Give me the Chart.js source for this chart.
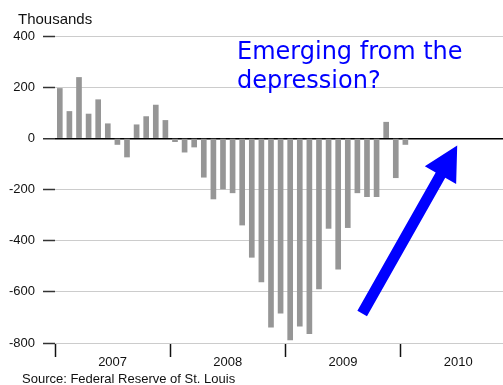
<!DOCTYPE html>
<html>
<head>
<meta charset="utf-8">
<script src="https://cdn.jsdelivr.net/npm/chart.js@4"></script>
<style>
  body { margin: 0; background: #fff; overflow: hidden; }
</style>
</head>
<body>
<canvas id="jobsChart" width="503" height="385"></canvas>
<script>
// Monthly change in payrolls (thousands), Jan 2007 .. Jan 2010
const months = [
  'Jan 2007','Feb 2007','Mar 2007','Apr 2007','May 2007','Jun 2007',
  'Jul 2007','Aug 2007','Sep 2007','Oct 2007','Nov 2007','Dec 2007',
  'Jan 2008','Feb 2008','Mar 2008','Apr 2008','May 2008','Jun 2008',
  'Jul 2008','Aug 2008','Sep 2008','Oct 2008','Nov 2008','Dec 2008',
  'Jan 2009','Feb 2009','Mar 2009','Apr 2009','May 2009','Jun 2009',
  'Jul 2009','Aug 2009','Sep 2009','Oct 2009','Nov 2009','Dec 2009',
  'Jan 2010'
];
const jobChanges = [
  195, 105, 238, 95, 151, 57, -24, -73, 53, 85, 130, 70,
  -13, -54, -34, -152, -237, -198, -213, -339, -465, -561, -738, -683,
  -788, -734, -764, -589, -352, -511, -349, -213, -228, -228, 63, -154,
  -24
];
const years = ['2007', '2008', '2009', '2010'];
const yTicks = [400, 200, 0, -200, -400, -600, -800];

// arrow annotation, in (month, thousands)
const arrowFrom = { month: 32.0, value: -685 };
const arrowTo = { month: 41.9, value: -28 };

const noteLines = ['Emerging from the', 'depression?'];

Chart.defaults.font.family = '"Liberation Sans", Arial, sans-serif';
Chart.defaults.font.size = 13;
Chart.defaults.color = '#111';

const extras = {
  id: 'extras',
  afterDatasetsDraw(chart) {
    const ctx = chart.ctx;
    const xs = chart.scales.x, ys = chart.scales.y;

    // blue arrow
    const x1 = xs.getPixelForValue(arrowFrom.month), y1 = ys.getPixelForValue(arrowFrom.value);
    const x2 = xs.getPixelForValue(arrowTo.month), y2 = ys.getPixelForValue(arrowTo.value);
    const ang = Math.atan2(y2 - y1, x2 - x1);
    const headLen = 34, headHalf = 18, shaft = 11;
    const bx = x2 - headLen * Math.cos(ang), by = y2 - headLen * Math.sin(ang);
    const px = -Math.sin(ang), py = Math.cos(ang);
    ctx.save();
    ctx.fillStyle = '#0000ff';
    ctx.beginPath();
    ctx.moveTo(x1 + px * shaft / 2, y1 + py * shaft / 2);
    ctx.lineTo(bx + px * shaft / 2, by + py * shaft / 2);
    ctx.lineTo(bx + px * headHalf, by + py * headHalf);
    ctx.lineTo(x2, y2);
    ctx.lineTo(bx - px * headHalf, by - py * headHalf);
    ctx.lineTo(bx - px * shaft / 2, by - py * shaft / 2);
    ctx.lineTo(x1 - px * shaft / 2, y1 - py * shaft / 2);
    ctx.closePath();
    ctx.fill();

    // note text
    ctx.font = '24px "DejaVu Sans", Verdana, sans-serif';
    ctx.textBaseline = 'alphabetic';
    ctx.textAlign = 'left';
    ctx.fillText(noteLines[0], 237, 59);
    ctx.fillText(noteLines[1], 237, 88);

    // unit + source
    ctx.fillStyle = '#111';
    ctx.font = '15px "Liberation Sans", Arial, sans-serif';
    ctx.fillText('Thousands', 18, 24);
    ctx.font = '13px "Liberation Sans", Arial, sans-serif';
    ctx.fillText('Source: Federal Reserve of St. Louis', 22, 383);
    ctx.restore();
  }
};

new Chart(document.getElementById('jobsChart'), {
  type: 'bar',
  data: {
    datasets: [{
      label: 'Payroll change',
      data: months.map((m, i) => ({ x: i + 0.5, y: jobChanges[i] })),
      backgroundColor: '#969696',
      barThickness: 5,
      borderWidth: 0
    }]
  },
  options: {
    responsive: false,
    animation: false,
    devicePixelRatio: 1,
    layout: { padding: { top: 36, left: 0, right: 0, bottom: 0 } },
    plugins: { legend: { display: false }, tooltip: { enabled: false } },
    scales: {
      x: {
        type: 'linear',
        offset: false,
        min: 0,
        max: 46.67,
        afterBuildTicks(scale) {
          const t = [];
          years.forEach((y, i) => { t.push({ value: i * 12 }); t.push({ value: i * 12 + 6 }); });
          scale.ticks = t;
        },
        afterFit(scale) { scale.height = 42; },
        border: { display: false },
        grid: {
          offset: false,
          drawOnChartArea: false,
          tickLength: 14,
          tickWidth: 1.5,
          tickColor: ctx => (ctx.tick && ctx.tick.value % 12 === 0) ? '#111' : 'rgba(0,0,0,0)'
        },
        ticks: {
          autoSkip: false,
          maxRotation: 0,
          padding: -2,
          callback: v => (v % 12 === 6) ? years[(v - 6) / 12] : ''
        }
      },
      y: {
        min: -800,
        max: 400,
        afterBuildTicks(scale) { scale.ticks = yTicks.map(v => ({ value: v })); },
        afterFit(scale) { scale.width = 55; },
        border: { display: false },
        grid: {
          color: ctx => ctx.tick.value === 0 ? '#000' : '#cccccc',
          lineWidth: ctx => ctx.tick.value === 0 ? 1.5 : 1,
          tickLength: 12,
          tickWidth: 1.5,
          tickColor: '#333'
        },
        ticks: { padding: 8 }
      }
    }
  },
  plugins: [extras]
});
</script>
</body>
</html>
